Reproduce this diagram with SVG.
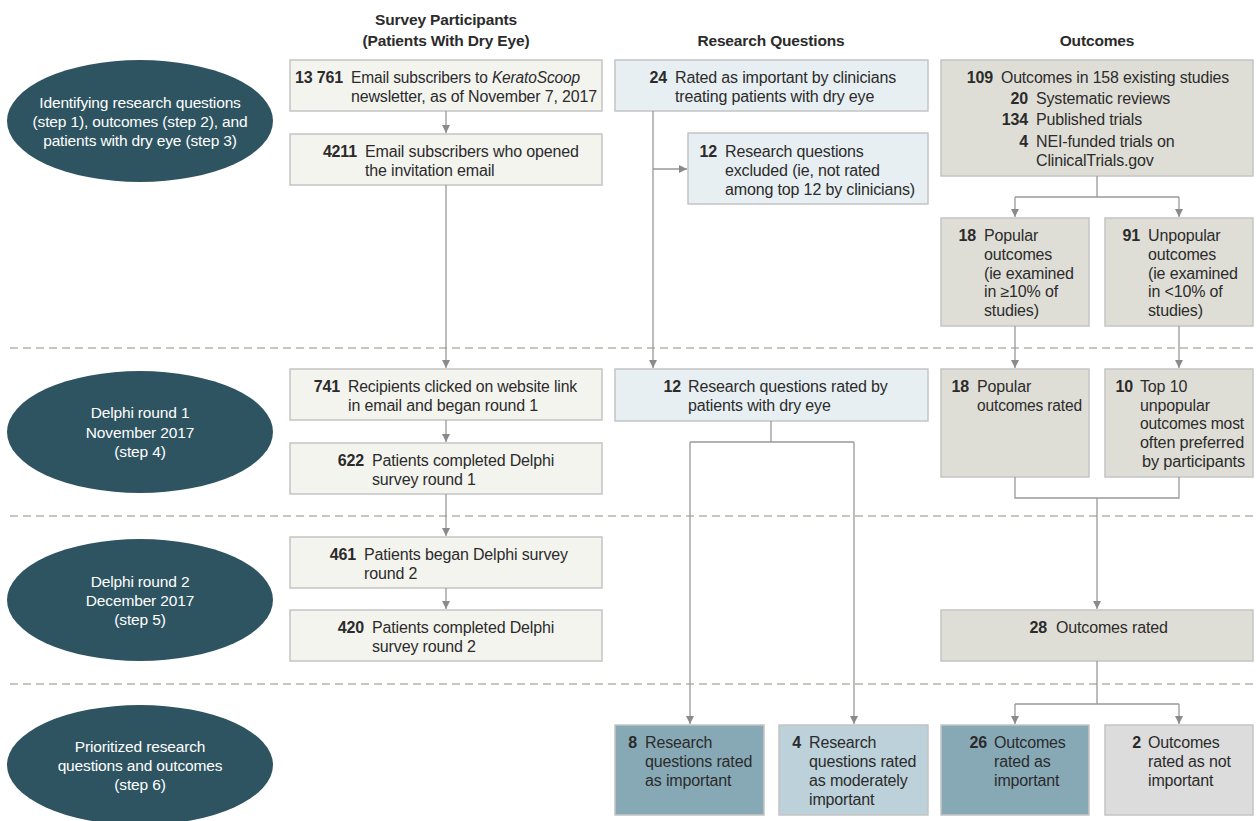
<svg xmlns="http://www.w3.org/2000/svg" width="1259" height="821" viewBox="0 0 1259 821">
<style>
text{font-family:"Liberation Sans",Arial,sans-serif;font-size:16px;fill:#2b2b2b;letter-spacing:-0.15px}
.n{font-weight:bold;text-anchor:end}
.h{font-weight:bold;text-anchor:middle;font-size:15.5px}
.e{fill:#ffffff;text-anchor:middle;font-size:15.5px}
.ell{fill:#2e5461}
.bx{stroke:#c4c4c4;stroke-width:1.5}
.p{fill:#f4f4ef}
.q{fill:#e8eff2}
.o{fill:#dfded6}
.d1{fill:#87a9b6}
.d2{fill:#bcd1d9}
.d3{fill:#dcdcdc}
.c{fill:none;stroke:#999999;stroke-width:1.3}
.dash{stroke:#c9c6bb;stroke-width:2;stroke-dasharray:8 5}
</style>
<defs>
<marker id="ah" viewBox="0 0 10 10" refX="10" refY="5" markerWidth="8" markerHeight="8" markerUnits="userSpaceOnUse" orient="auto">
<path d="M0,0 L10,5 L0,10 z" fill="#8a8a8a"/>
</marker>
</defs>

<g id="headers">
<text class="h" x="446" y="25">Survey Participants</text>
<text class="h" x="446" y="46">(Patients With Dry Eye)</text>
<text class="h" x="771" y="46">Research Questions</text>
<text class="h" x="1097" y="46">Outcomes</text>
</g>

<g id="dividers">
<line class="dash" x1="10" y1="348" x2="1253" y2="348"/>
<line class="dash" x1="10" y1="516" x2="1253" y2="516"/>
<line class="dash" x1="10" y1="684" x2="1253" y2="684"/>
</g>

<g id="step123">
<ellipse class="ell" cx="140" cy="121" rx="133" ry="61"/>
<text class="e" x="140" y="108">Identifying research questions</text>
<text class="e" x="140" y="127">(step 1), outcomes (step 2), and</text>
<text class="e" x="140" y="146">patients with dry eye (step 3)</text>
</g>
<g id="step4">
<ellipse class="ell" cx="140" cy="432" rx="133" ry="61"/>
<text class="e" x="140" y="418">Delphi round 1</text>
<text class="e" x="140" y="438">November 2017</text>
<text class="e" x="140" y="457">(step 4)</text>
</g>
<g id="step5">
<ellipse class="ell" cx="140" cy="600" rx="133" ry="61"/>
<text class="e" x="140" y="587">Delphi round 2</text>
<text class="e" x="140" y="606">December 2017</text>
<text class="e" x="140" y="625">(step 5)</text>
</g>
<g id="step6">
<ellipse class="ell" cx="140" cy="765" rx="133" ry="60"/>
<text class="e" x="140" y="752">Prioritized research</text>
<text class="e" x="140" y="771">questions and outcomes</text>
<text class="e" x="140" y="790">(step 6)</text>
</g>

<g id="p13761">
<rect class="bx p" x="290" y="60" width="312" height="51"/>
<text class="n" x="343" y="83">13 761</text>
<text x="351" y="83" textLength="229" lengthAdjust="spacingAndGlyphs">Email subscribers to <tspan font-style="italic">KeratoScoop</tspan></text>
<text x="351" y="102" textLength="246" lengthAdjust="spacingAndGlyphs">newsletter, as of November 7, 2017</text>
</g>
<g id="p4211">
<rect class="bx p" x="290" y="134" width="312" height="51"/>
<text class="n" x="357" y="157">4211</text>
<text x="365" y="157">Email subscribers who opened</text>
<text x="365" y="176">the invitation email</text>
</g>
<g id="p741">
<rect class="bx p" x="290" y="369" width="312" height="51"/>
<text class="n" x="340" y="392">741</text>
<text x="348" y="392" textLength="229" lengthAdjust="spacingAndGlyphs">Recipients clicked on website link</text>
<text x="348" y="411">in email and began round 1</text>
</g>
<g id="p622">
<rect class="bx p" x="290" y="443" width="312" height="51"/>
<text class="n" x="364" y="466">622</text>
<text x="372" y="466">Patients completed Delphi</text>
<text x="372" y="485">survey round 1</text>
</g>
<g id="p461">
<rect class="bx p" x="290" y="537" width="312" height="51"/>
<text class="n" x="356" y="560">461</text>
<text x="364" y="560">Patients began Delphi survey</text>
<text x="364" y="579">round 2</text>
</g>
<g id="p420">
<rect class="bx p" x="290" y="610" width="312" height="51"/>
<text class="n" x="364" y="633">420</text>
<text x="372" y="633">Patients completed Delphi</text>
<text x="372" y="652">survey round 2</text>
</g>

<g id="q24">
<rect class="bx q" x="615" y="60" width="313" height="51"/>
<text class="n" x="667" y="83">24</text>
<text x="675" y="83">Rated as important by clinicians</text>
<text x="675" y="102">treating patients with dry eye</text>
</g>
<g id="q12ex">
<rect class="bx q" x="688" y="133" width="240" height="71"/>
<text class="n" x="717" y="157">12</text>
<text x="725" y="157">Research questions</text>
<text x="725" y="176">excluded (ie, not rated</text>
<text x="725" y="195" textLength="190" lengthAdjust="spacingAndGlyphs">among top 12 by clinicians)</text>
</g>
<g id="q12">
<rect class="bx q" x="615" y="369" width="313" height="52"/>
<text class="n" x="681" y="392">12</text>
<text x="688" y="392">Research questions rated by</text>
<text x="688" y="411">patients with dry eye</text>
</g>
<g id="q8">
<rect class="bx d1" x="615" y="725" width="149" height="90"/>
<text class="n" x="637" y="748">8</text>
<text x="645" y="748">Research</text>
<text x="645" y="767">questions rated</text>
<text x="645" y="786">as important</text>
</g>
<g id="q4">
<rect class="bx d2" x="779" y="725" width="149" height="90"/>
<text class="n" x="801" y="748">4</text>
<text x="809" y="748">Research</text>
<text x="809" y="767">questions rated</text>
<text x="809" y="786">as moderately</text>
<text x="809" y="805">important</text>
</g>

<g id="o109">
<rect class="bx o" x="941" y="60" width="312" height="116"/>
<text class="n" x="993" y="83">109</text>
<text x="1001" y="83" textLength="228" lengthAdjust="spacingAndGlyphs">Outcomes in 158 existing studies</text>
<text class="n" x="1028" y="104">20</text>
<text x="1036" y="104">Systematic reviews</text>
<text class="n" x="1028" y="125">134</text>
<text x="1036" y="125">Published trials</text>
<text class="n" x="1028" y="147">4</text>
<text x="1036" y="147">NEI-funded trials on</text>
<text x="1036" y="166">ClinicalTrials.gov</text>
</g>
<g id="o18pop">
<rect class="bx o" x="941" y="218" width="148" height="108"/>
<text class="n" x="976" y="241">18</text>
<text x="984" y="241">Popular</text>
<text x="984" y="260">outcomes</text>
<text x="984" y="279">(ie examined</text>
<text x="984" y="297">in ≥10% of</text>
<text x="984" y="316">studies)</text>
</g>
<g id="o91">
<rect class="bx o" x="1105" y="218" width="148" height="108"/>
<text class="n" x="1140" y="241">91</text>
<text x="1148" y="241">Unpopular</text>
<text x="1148" y="260">outcomes</text>
<text x="1148" y="279">(ie examined</text>
<text x="1148" y="297">in &lt;10% of</text>
<text x="1148" y="316">studies)</text>
</g>
<g id="o18">
<rect class="bx o" x="941" y="369" width="148" height="108"/>
<text class="n" x="969" y="392">18</text>
<text x="977" y="392">Popular</text>
<text x="977" y="411" textLength="105" lengthAdjust="spacingAndGlyphs">outcomes rated</text>
</g>
<g id="o10">
<rect class="bx o" x="1105" y="369" width="148" height="108"/>
<text class="n" x="1133" y="392">10</text>
<text x="1140" y="392">Top 10</text>
<text x="1140" y="411">unpopular</text>
<text x="1140" y="429" textLength="104" lengthAdjust="spacingAndGlyphs">outcomes most</text>
<text x="1140" y="448" textLength="104" lengthAdjust="spacingAndGlyphs">often preferred</text>
<text x="1142" y="467" textLength="103" lengthAdjust="spacingAndGlyphs">by participants</text>
</g>
<g id="o28">
<rect class="bx o" x="941" y="610" width="312" height="51"/>
<text class="n" x="1047" y="633">28</text>
<text x="1056" y="633">Outcomes rated</text>
</g>
<g id="o26">
<rect class="bx d1" x="941" y="725" width="148" height="90"/>
<text class="n" x="987" y="748">26</text>
<text x="994" y="748">Outcomes</text>
<text x="994" y="767">rated as</text>
<text x="994" y="786">important</text>
</g>
<g id="o2">
<rect class="bx d3" x="1105" y="725" width="148" height="90"/>
<text class="n" x="1141" y="748">2</text>
<text x="1148" y="748">Outcomes</text>
<text x="1148" y="767">rated as not</text>
<text x="1148" y="786">important</text>
</g>

<g id="connectors">
<line class="c" x1="446" y1="111" x2="446" y2="133" marker-end="url(#ah)"/>
<line class="c" x1="446" y1="185" x2="446" y2="368" marker-end="url(#ah)"/>
<line class="c" x1="446" y1="420" x2="446" y2="442" marker-end="url(#ah)"/>
<line class="c" x1="446" y1="494" x2="446" y2="536" marker-end="url(#ah)"/>
<line class="c" x1="446" y1="588" x2="446" y2="609" marker-end="url(#ah)"/>
<line class="c" x1="653" y1="111" x2="653" y2="368" marker-end="url(#ah)"/>
<line class="c" x1="653" y1="169" x2="687" y2="169" marker-end="url(#ah)"/>
<path class="c" d="M771,421 V442 M690,442 H854"/>
<line class="c" x1="690" y1="442" x2="690" y2="724" marker-end="url(#ah)"/>
<line class="c" x1="854" y1="442" x2="854" y2="724" marker-end="url(#ah)"/>
<path class="c" d="M1097,176 V197 M1015,197 H1179"/>
<line class="c" x1="1015" y1="197" x2="1015" y2="217" marker-end="url(#ah)"/>
<line class="c" x1="1179" y1="197" x2="1179" y2="217" marker-end="url(#ah)"/>
<line class="c" x1="1015" y1="326" x2="1015" y2="368" marker-end="url(#ah)"/>
<line class="c" x1="1179" y1="326" x2="1179" y2="368" marker-end="url(#ah)"/>
<path class="c" d="M1015,477 V498 H1179 V477"/>
<line class="c" x1="1097" y1="498" x2="1097" y2="609" marker-end="url(#ah)"/>
<path class="c" d="M1097,661 V704 M1015,704 H1179"/>
<line class="c" x1="1015" y1="704" x2="1015" y2="724" marker-end="url(#ah)"/>
<line class="c" x1="1179" y1="704" x2="1179" y2="724" marker-end="url(#ah)"/>
</g>
</svg>
